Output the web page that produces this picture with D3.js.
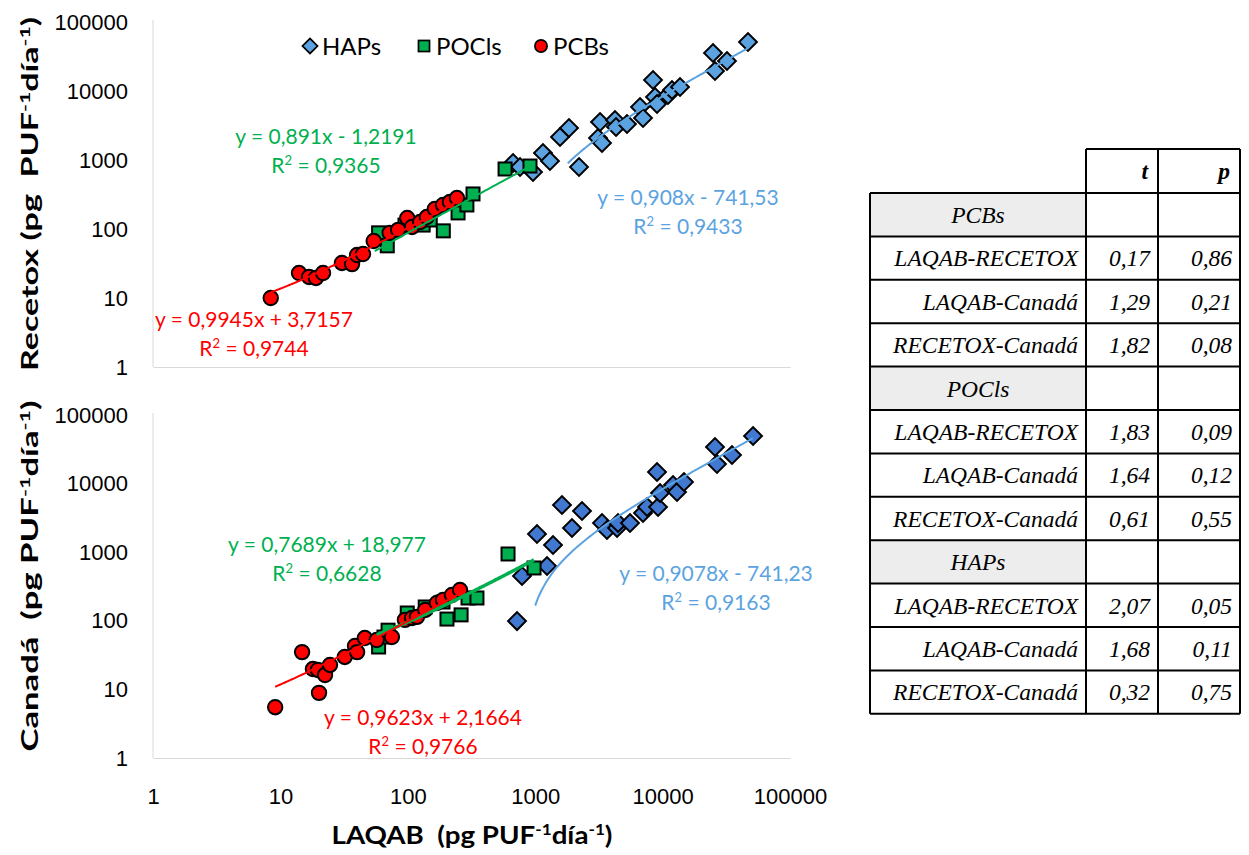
<!DOCTYPE html>
<html>
<head>
<meta charset="utf-8">
<script src="https://cdn.jsdelivr.net/npm/d3@7"></script>
<style>
  body { margin: 0; background: #fff; }
  svg { display: block; }
</style>
</head>
<body>
<div id="chart"></div>
<script>
'use strict';

const axisTicks = [1, 10, 100, 1000, 10000, 100000];

// top panel: LAQAB vs Recetox  [x, y]
const hapsTop = [
    [670, 905], [760, 792], [961, 670], [1151, 1262], [1306, 968], [1566, 2154],
    [1842, 2910], [2208, 792], [3112, 2083], [3228, 3556], [3345, 1763], [4230, 3800],
    [4310, 3008], [5255, 3326], [6650, 5867], [7020, 4060], [8410, 14430], [8720, 8190],
    [9040, 6480], [11020, 8750], [11850, 10330], [13700, 11430], [24880, 35540],
    [25780, 19500], [32010, 27200], [46800, 51300]
];
const poclsTop = [
    [59, 88], [69, 57], [95, 114], [132, 114], [150, 135], [190, 94], [248, 171],
    [291, 223], [325, 322], [580, 741], [910, 818]
];
const pcbsTop = [
    [8.4, 10], [14, 23], [16.8, 20.2], [19, 19.5], [21.6, 23], [30.4, 32.2], [36.5, 31],
    [40, 42], [44.5, 43.4], [54, 67], [72, 88], [84, 97], [99, 144], [108, 107],
    [125, 126], [141, 149], [163, 195], [189, 223], [214, 246], [243, 281]
];

// bottom panel: LAQAB vs Canadá  [x, y]
const hapsBottom = [
    [720, 99], [788, 450], [1033, 1842], [1238, 629], [1380, 1274], [1623, 4877],
    [1944, 2254], [2330, 3989], [3345, 2667], [3660, 2108], [4390, 2254], [4470, 2667],
    [5550, 2667], [7020, 3726], [7550, 4560], [9040, 14760], [9210, 4560], [9550, 7290],
    [12080, 9540], [12980, 7550], [14720, 10550], [25780, 34200], [26720, 19310],
    [35050, 26100], [51300, 49400]
];
const poclsBottom = [
    [59, 41.5], [65, 58], [70, 73], [99, 130], [137, 159], [189, 188], [203, 106],
    [262, 122], [297, 215], [349, 215], [612, 942], [979, 589]
];
const pcbsBottom = [
    [9.1, 5.5], [14.8, 35], [18, 19.8], [20.1, 8.9], [19.7, 19.2], [22.4, 16.2],
    [24.5, 22.7], [32, 29.7], [38.5, 43], [40, 35], [46, 56], [57, 52.5], [75, 58],
    [95, 103], [108, 110], [118, 114], [137, 144], [169, 182], [189, 201], [222, 238],
    [257, 281]
];

// trendlines: slope, intercept, label text, first x where the line is drawn
const trendsTop = [
    { series: 'HAPs', slope: 0.908, intercept: -741.53, eq: 'y = 0,908x - 741,53', r2: '0,9433', from: 1800 },
    { series: 'POCls', slope: 0.891, intercept: -1.2191, eq: 'y = 0,891x - 1,2191', r2: '0,9365', from: 55 },
    { series: 'PCBs', slope: 0.9945, intercept: 3.7157, eq: 'y = 0,9945x + 3,7157', r2: '0,9744', from: 8.4 }
];
const trendsBottom = [
    { series: 'HAPs', slope: 0.9078, intercept: -741.23, eq: 'y = 0,9078x - 741,23', r2: '0,9163', from: 1000 },
    { series: 'POCls', slope: 0.7689, intercept: 18.977, eq: 'y = 0,7689x + 18,977', r2: '0,6628', from: 57 },
    { series: 'PCBs', slope: 0.9623, intercept: 2.1664, eq: 'y = 0,9623x + 2,1664', r2: '0,9766', from: 9.1 }
];

const seriesNames = ['HAPs', 'POCls', 'PCBs'];

// t-test table
const tableGroups = ['PCBs', 'POCls', 'HAPs'];
const tablePairs = ['LAQAB-RECETOX', 'LAQAB-Canadá', 'RECETOX-Canadá'];
const tValues = [['0,17', '1,29', '1,82'], ['1,83', '1,64', '0,61'], ['2,07', '1,68', '0,32']];
const pValues = [['0,86', '0,21', '0,08'], ['0,09', '0,12', '0,55'], ['0,05', '0,11', '0,75']];

const width = 1249;
const height = 855;
const font = 'Lato, "Open Sans", sans-serif';
const tickFont = '"Liberation Sans", Arial, sans-serif';

const svg = d3.select('#chart').append('svg')
    .attr('width', width)
    .attr('height', height)
    .style('font-family', font);

const x = d3.scaleLog().domain([1, 100000]).range([153, 790]);

const styles = {
    HAPs: { shape: 'diamond', line: '#5BA3E0', lineWidth: 2 },
    POCls: { shape: 'square', fill: '#00B050', line: '#00B050' },
    PCBs: { shape: 'circle', fill: '#FF0000', line: '#FF0000', lineWidth: 2 }
};

function marker(g, shape, fill) {
    if (shape === 'diamond') {
        g.append('rect').attr('x', -6.3).attr('y', -6.3).attr('width', 12.6).attr('height', 12.6)
            .attr('transform', 'rotate(45)');
    } else if (shape === 'square') {
        g.append('rect').attr('x', -6.5).attr('y', -6.5).attr('width', 13).attr('height', 13);
    } else {
        g.append('circle').attr('r', 7.2);
    }
    g.selectAll('*').attr('fill', fill).attr('stroke', '#000').attr('stroke-width', 2);
}

function drawPanel(cfg) {
    const y = d3.scaleLog().domain([1, 100000]).range([cfg.bottom, cfg.top]);

    // left axis
    svg.append('g')
        .attr('transform', `translate(${x.range()[0]},0)`)
        .call(d3.axisLeft(y).tickValues(axisTicks).tickFormat(d3.format('d'))
            .tickSize(0).tickPadding(25))
        .call(g => g.select('.domain').attr('stroke', '#D9D9D9').attr('d', `M0,${cfg.top - 2}V${cfg.bottom}`))
        .call(g => g.selectAll('text').attr('font-size', 22).attr('fill', '#000').style('font-family', tickFont));

    // bottom axis
    svg.append('g')
        .attr('transform', `translate(0,${cfg.bottom})`)
        .call(d3.axisBottom(x).tickValues(cfg.xLabels ? axisTicks : []).tickFormat(d3.format('d'))
            .tickSize(0).tickSizeOuter(0).tickPadding(30))
        .call(g => g.select('.domain').attr('stroke', '#D9D9D9'))
        .call(g => g.selectAll('text').attr('font-size', 22).attr('fill', '#000').style('font-family', tickFont));

    const data = cfg.data;
    seriesNames.forEach(name => {
        const st = styles[name];
        svg.append('g').selectAll('g')
            .data(data[name])
            .enter().append('g')
            .attr('transform', d => `translate(${x(d[0])},${y(d[1])})`)
            .each(function () { marker(d3.select(this), st.shape, name === 'HAPs' ? cfg.hapFill : st.fill); });
    });

    cfg.trends.forEach(t => {
        const st = styles[t.series];
        const xmax = d3.max(data[t.series], d => d[0]);
        const lo = Math.log10(t.from), hi = Math.log10(xmax);
        const pts = d3.range(0, 121)
            .map(i => Math.pow(10, lo + (hi - lo) * i / 120))
            .map(v => [v, t.slope * v + t.intercept])
            .filter(d => d[1] > 0);
        svg.append('path')
            .datum(pts)
            .attr('fill', 'none')
            .attr('stroke', st.line)
            .attr('stroke-width', t.series === 'POCls' ? cfg.poclWidth : st.lineWidth)
            .attr('d', d3.line().x(d => x(d[0])).y(d => y(d[1])));

        const pos = cfg.labels[t.series];
        const lab = svg.append('text')
            .attr('text-anchor', 'middle')
            .attr('font-size', 21)
            .attr('fill', st.line)
            .style('white-space', 'pre');
        lab.append('tspan').attr('x', pos[0]).attr('y', pos[1]).text(t.eq);
        const r = lab.append('tspan').attr('x', pos[0]).attr('y', pos[1] + 29);
        r.append('tspan').text('R');
        r.append('tspan').attr('baseline-shift', 'super').attr('font-size', 13).text('2');
        r.append('tspan').text(' = ' + t.r2);
    });
}

drawPanel({
    top: 22, bottom: 367, xLabels: false,
    data: { HAPs: hapsTop, POCls: poclsTop, PCBs: pcbsTop },
    trends: trendsTop,
    hapFill: '#5BA3E0', poclWidth: 2,
    labels: { HAPs: [688, 205], POCls: [326, 144], PCBs: [254, 327] }
});

drawPanel({
    top: 415, bottom: 758, xLabels: true,
    data: { HAPs: hapsBottom, POCls: poclsBottom, PCBs: pcbsBottom },
    trends: trendsBottom,
    hapFill: '#4178D0', poclWidth: 3.5,
    labels: { HAPs: [716, 581], POCls: [327, 552], PCBs: [423, 725] }
});

// legend
{
    const items = seriesNames.map((name, i) => ({ name, x: [310, 424, 541][i] }));
    const lg = svg.append('g').selectAll('g')
        .data(items)
        .enter().append('g')
        .attr('transform', d => `translate(${d.x},46)`);
    lg.each(function (d) {
        const g = d3.select(this).append('g');
        marker(g, styles[d.name].shape, d.name === 'HAPs' ? '#5BA3E0' : styles[d.name].fill);
        g.attr('transform', 'scale(0.85)');
    });
    lg.append('text')
        .attr('x', 12)
        .attr('dy', '0.36em')
        .attr('font-size', 24)
        .text(d => d.name);
}

// axis titles
function unitTitle(sel, prefix, size, len) {
    sel.attr('font-weight', 'bold').attr('font-size', size).style('white-space', 'pre')
        .attr('textLength', len).attr('lengthAdjust', 'spacingAndGlyphs');
    sel.append('tspan').text(prefix + 'PUF');
    sel.append('tspan').attr('baseline-shift', 'super').attr('font-size', size * 0.62).text('-1');
    sel.append('tspan').text('día');
    sel.append('tspan').attr('baseline-shift', 'super').attr('font-size', size * 0.62).text('-1');
    sel.append('tspan').text(')');
}

svg.append('text')
    .attr('text-anchor', 'middle')
    .attr('transform', 'translate(38,194) rotate(-90)')
    .call(unitTitle, 'Recetox (pg  ', 22, 354);

svg.append('text')
    .attr('text-anchor', 'middle')
    .attr('transform', 'translate(38,576) rotate(-90)')
    .call(unitTitle, 'Canadá  (pg ', 22, 351);

svg.append('text')
    .attr('text-anchor', 'middle')
    .attr('x', 472)
    .attr('y', 844)
    .call(unitTitle, 'LAQAB  (pg ', 25, 281);

// table
{
    const colX = [870, 1086, 1158, 1240];
    const headTop = 149;
    const rowTop = 193;
    const rowH = 43.4;
    const tf = '"Liberation Serif", "Times New Roman", serif';
    const tg = svg.append('g').style('font-family', tf).attr('font-style', 'italic').attr('font-size', 23.5);

    const rows = [];
    tableGroups.forEach((grp, gi) => {
        rows.push({ label: grp, group: true });
        tablePairs.forEach((pair, pi) => rows.push({ label: pair, t: tValues[gi][pi], p: pValues[gi][pi] }));
    });

    rows.forEach((r, i) => {
        const y0 = rowTop + i * rowH;
        if (r.group) {
            tg.append('rect').attr('x', colX[0]).attr('y', y0).attr('width', colX[1] - colX[0]).attr('height', rowH)
                .attr('fill', '#EDEDED');
            tg.append('text').attr('x', (colX[0] + colX[1]) / 2).attr('y', y0 + rowH / 2).attr('dy', '0.35em')
                .attr('text-anchor', 'middle').text(r.label);
        } else {
            tg.append('text').attr('x', colX[1] - 8).attr('y', y0 + rowH / 2).attr('dy', '0.35em')
                .attr('text-anchor', 'end').text(r.label);
            tg.append('text').attr('x', colX[2] - 8).attr('y', y0 + rowH / 2).attr('dy', '0.35em')
                .attr('text-anchor', 'end').text(r.t);
            tg.append('text').attr('x', colX[3] - 8).attr('y', y0 + rowH / 2).attr('dy', '0.35em')
                .attr('text-anchor', 'end').text(r.p);
        }
    });

    tg.append('text').attr('x', colX[2] - 10).attr('y', (headTop + rowTop) / 2).attr('dy', '0.35em')
        .attr('text-anchor', 'end').attr('font-weight', 'bold').text('t');
    tg.append('text').attr('x', colX[3] - 10).attr('y', (headTop + rowTop) / 2).attr('dy', '0.35em')
        .attr('text-anchor', 'end').attr('font-weight', 'bold').text('p');

    const bottom = rowTop + rows.length * rowH;
    const lines = tg.append('g').attr('stroke', '#000').attr('stroke-width', 2);
    // horizontals
    lines.append('line').attr('x1', colX[1]).attr('x2', colX[3]).attr('y1', headTop).attr('y2', headTop);
    d3.range(rows.length + 1).forEach(i => {
        const yy = rowTop + i * rowH;
        lines.append('line').attr('x1', colX[0]).attr('x2', colX[3]).attr('y1', yy).attr('y2', yy);
    });
    // verticals
    lines.append('line').attr('x1', colX[0]).attr('x2', colX[0]).attr('y1', rowTop).attr('y2', bottom);
    colX.slice(1).forEach(cx => {
        lines.append('line').attr('x1', cx).attr('x2', cx).attr('y1', headTop).attr('y2', bottom);
    });
}
</script>
</body>
</html>
